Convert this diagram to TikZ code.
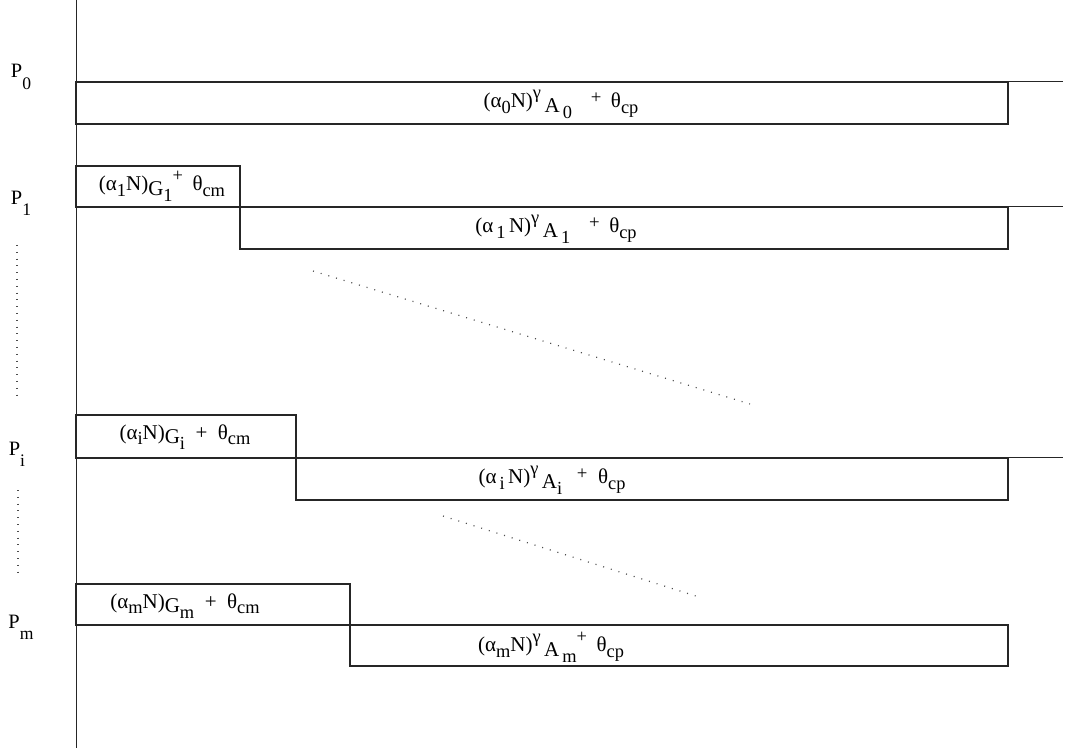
\documentclass[tikz,border=0pt]{standalone}
\usepackage{fontspec}
\setmainfont{Liberation Serif}
% small raised / lowered pieces for the cost formulas
\newcommand\lo[1]{\raisebox{-0.6ex}{\fontsize{9.2}{9}\selectfont #1}}
\newcommand\hi[1]{\raisebox{1.0ex}{\fontsize{9.2}{9}\selectfont #1}}
\newcommand\dn[1]{\raisebox{-0.5ex}{#1}}
\newcommand\pl{\raisebox{0.4ex}{\fontsize{9.4}{9}\selectfont +}}
\newcommand\plo[1]{\raisebox{-1.2ex}{\fontsize{8.8}{9}\selectfont #1}}
\begin{document}
\begin{tikzpicture}[x=0.5pt,y=-0.5pt,
  rule/.style={line width=0.5pt,black!85},
  slot/.style={line width=0.55pt,black!85},
  formula/.style={inner sep=0pt,font=\fontsize{10.5}{11}\selectfont},
  proc/.style={inner sep=0pt,font=\fontsize{10.2}{11}\selectfont},
  trail/.style={line width=0.6pt,black!70,dash pattern=on 0.5pt off 3.5pt},
  vtrail/.style={line width=0.6pt,black!70,dash pattern=on 0.5pt off 2.9pt}]
\useasboundingbox (0,0) rectangle (1072,754);

% time axis
\coordinate (ax0) at (76,0);
\coordinate (ax1) at (76,748);
\draw[rule] (ax0) -- (ax1);

% processor P0
\node[proc] (p0) at (21,77) {P\plo{0}};
\coordinate (l0a) at (76,82); \coordinate (l0b) at (1063,82);
\draw[rule] (l0a) -- (l0b);
\draw[slot] (76,82) rectangle (1008,124);
\node[formula] (a0) at (561,104) {(α\lo{0}N)\hi{γ}\,\dn{A\lo{\,0}}\hspace{0.9em}\pl\hspace{0.45em}θ\lo{cp}};

% processor P1
\node[proc] (p1) at (21,203) {P\plo{1}};
\draw[slot] (76,166) rectangle (240,207);
\node[formula] (g1) at (162,186) {(α\lo{1}N)\dn{G\lo{1}}\hi{+}\hspace{0.45em}θ\lo{cm}};
\coordinate (l1a) at (76,207); \coordinate (l1b) at (1063,207);
\draw[rule] (l1a) -- (l1b);
\draw[slot] (240,207) rectangle (1008,249);
\node[formula] (a1) at (556,229) {(α\lo{\,1}\,N)\hi{γ}\,\dn{A\lo{\,1}}\hspace{0.9em}\pl\hspace{0.45em}θ\lo{cp}};

% elided processors between P1 and Pi
\coordinate (d1a) at (313,271); \coordinate (d1b) at (750,404);
\draw[trail] (d1a) -- (d1b);
\coordinate (v1a) at (17,245); \coordinate (v1b) at (17,397);
\draw[vtrail] (v1a) -- (v1b);

% processor Pi
\node[proc] (pi) at (17,454) {P\plo{i}};
\draw[slot] (76,415) rectangle (296,458);
\node[formula] (gi) at (185,437) {(α\lo{i}N)\dn{G\lo{i}}\hspace{0.5em}+\hspace{0.5em}θ\lo{cm}};
\coordinate (lia) at (76,458); \coordinate (lib) at (1063,458);
\draw[rule] (lia) -- (lib);
\draw[slot] (296,458) rectangle (1008,500);
\node[formula] (ai) at (552,480) {(α\lo{\,i}\,N)\hi{γ}\,\dn{A\lo{i}}\hspace{0.7em}\pl\hspace{0.5em}θ\lo{cp}};

% elided processors between Pi and Pm
\coordinate (d2a) at (443,516); \coordinate (d2b) at (702,598);
\draw[trail] (d2a) -- (d2b);
\coordinate (v2a) at (18,490); \coordinate (v2b) at (18,578);
\draw[vtrail] (v2a) -- (v2b);

% processor Pm
\node[proc] (pm) at (21,627) {P\plo{m}};
\draw[slot] (76,584) rectangle (350,625);
\node[formula] (gm) at (185,606) {(α\lo{m}N)\dn{G\lo{m}}\hspace{0.5em}+\hspace{0.5em}θ\lo{cm}};
\draw[slot] (350,625) rectangle (1008,666);
\node[formula] (am) at (551,647) {(α\lo{m}N)\hi{γ}\,\dn{A\lo{\,m}}\hi{+}\hspace{0.45em}θ\lo{cp}};
\end{tikzpicture}
\end{document}
